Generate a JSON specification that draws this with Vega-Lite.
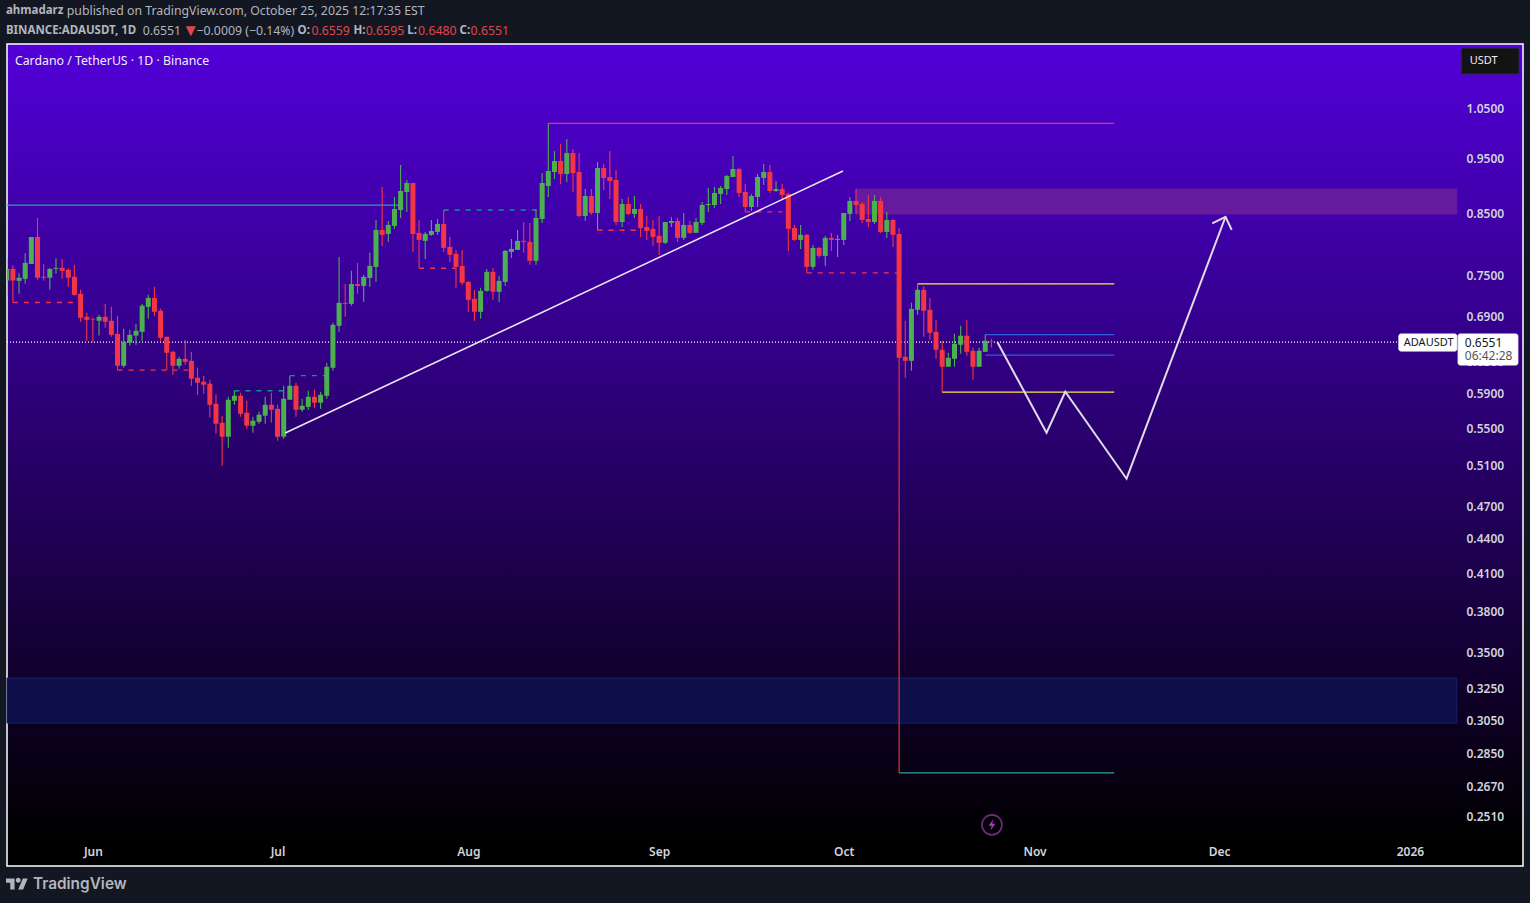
{
  "$schema": "https://vega.github.io/schema/vega-lite/v6.json",
  "autosize": {"type": "none"},
  "padding": {"left": 7, "top": 44, "right": 7, "bottom": 37},
  "width": 1516,
  "height": 822,
  "background": "#131722",
  "config": {
    "view": {
      "stroke": "#ffffff",
      "strokeWidth": 1.5,
      "fill": {
        "gradient": "linear",
        "x1": 0, "y1": 0, "x2": 0, "y2": 1,
        "stops": [
          {"offset": 0, "color": "#5200d9"},
          {"offset": 0.97, "color": "#000000"},
          {"offset": 1, "color": "#000000"}
        ]
      }
    },
    "text": {"font": "Noto Sans"},
    "axis": {"labelFont": "Noto Sans"}
  },
  "resolve": {"scale": {"color": "independent", "fill": "independent", "stroke": "independent", "strokeDash": "independent"}},
  "datasets": {
    "candles": [
      {"d":"2025-05-18","o":0.7418,"h":0.7760,"l":0.7183,"c":0.7595},
      {"d":"2025-05-19","o":0.7595,"h":0.7655,"l":0.7096,"c":0.7418},
      {"d":"2025-05-20","o":0.7414,"h":0.7530,"l":0.7222,"c":0.7460},
      {"d":"2025-05-21","o":0.7444,"h":0.7839,"l":0.7370,"c":0.7688},
      {"d":"2025-05-22","o":0.7672,"h":0.8100,"l":0.7672,"c":0.8100},
      {"d":"2025-05-23","o":0.8100,"h":0.8418,"l":0.7428,"c":0.7460},
      {"d":"2025-05-24","o":0.7475,"h":0.7672,"l":0.7414,"c":0.7460},
      {"d":"2025-05-25","o":0.7460,"h":0.7610,"l":0.7280,"c":0.7595},
      {"d":"2025-05-26","o":0.7595,"h":0.7760,"l":0.7520,"c":0.7610},
      {"d":"2025-05-27","o":0.7610,"h":0.7745,"l":0.7444,"c":0.7565},
      {"d":"2025-05-28","o":0.7580,"h":0.7605,"l":0.7324,"c":0.7460},
      {"d":"2025-05-29","o":0.7475,"h":0.7655,"l":0.7193,"c":0.7207},
      {"d":"2025-05-30","o":0.7222,"h":0.7280,"l":0.6825,"c":0.6880},
      {"d":"2025-05-31","o":0.6894,"h":0.6950,"l":0.6568,"c":0.6852},
      {"d":"2025-06-01","o":0.6866,"h":0.6880,"l":0.6547,"c":0.6857},
      {"d":"2025-06-02","o":0.6839,"h":0.6922,"l":0.6637,"c":0.6894},
      {"d":"2025-06-03","o":0.6894,"h":0.7078,"l":0.6742,"c":0.6825},
      {"d":"2025-06-04","o":0.6839,"h":0.7034,"l":0.6621,"c":0.6647},
      {"d":"2025-06-05","o":0.6660,"h":0.6908,"l":0.6190,"c":0.6244},
      {"d":"2025-06-06","o":0.6244,"h":0.6728,"l":0.6220,"c":0.6555},
      {"d":"2025-06-07","o":0.6542,"h":0.6715,"l":0.6502,"c":0.6647},
      {"d":"2025-06-08","o":0.6637,"h":0.6797,"l":0.6515,"c":0.6702},
      {"d":"2025-06-09","o":0.6688,"h":0.7078,"l":0.6568,"c":0.7050},
      {"d":"2025-06-10","o":0.7034,"h":0.7207,"l":0.6866,"c":0.7163},
      {"d":"2025-06-11","o":0.7163,"h":0.7324,"l":0.6908,"c":0.6964},
      {"d":"2025-06-12","o":0.6978,"h":0.7006,"l":0.6568,"c":0.6608},
      {"d":"2025-06-13","o":0.6621,"h":0.6621,"l":0.6190,"c":0.6410},
      {"d":"2025-06-14","o":0.6423,"h":0.6436,"l":0.6132,"c":0.6244},
      {"d":"2025-06-15","o":0.6244,"h":0.6358,"l":0.6206,"c":0.6333},
      {"d":"2025-06-16","o":0.6333,"h":0.6581,"l":0.6257,"c":0.6295},
      {"d":"2025-06-17","o":0.6307,"h":0.6423,"l":0.5997,"c":0.6082},
      {"d":"2025-06-18","o":0.6095,"h":0.6220,"l":0.5889,"c":0.6034},
      {"d":"2025-06-19","o":0.6046,"h":0.6120,"l":0.5901,"c":0.6010},
      {"d":"2025-06-20","o":0.6022,"h":0.6070,"l":0.5622,"c":0.5771},
      {"d":"2025-06-21","o":0.5783,"h":0.5889,"l":0.5443,"c":0.5554},
      {"d":"2025-06-22","o":0.5565,"h":0.5645,"l":0.5102,"c":0.5410},
      {"d":"2025-06-23","o":0.5410,"h":0.5865,"l":0.5292,"c":0.5830},
      {"d":"2025-06-24","o":0.5818,"h":0.5937,"l":0.5771,"c":0.5877},
      {"d":"2025-06-25","o":0.5877,"h":0.5913,"l":0.5633,"c":0.5667},
      {"d":"2025-06-26","o":0.5679,"h":0.5818,"l":0.5498,"c":0.5532},
      {"d":"2025-06-27","o":0.5532,"h":0.5633,"l":0.5454,"c":0.5588},
      {"d":"2025-06-28","o":0.5576,"h":0.5690,"l":0.5554,"c":0.5656},
      {"d":"2025-06-29","o":0.5645,"h":0.5865,"l":0.5554,"c":0.5771},
      {"d":"2025-06-30","o":0.5771,"h":0.5913,"l":0.5565,"c":0.5713},
      {"d":"2025-07-01","o":0.5724,"h":0.5771,"l":0.5367,"c":0.5410},
      {"d":"2025-07-02","o":0.5410,"h":0.5997,"l":0.5389,"c":0.5842},
      {"d":"2025-07-03","o":0.5830,"h":0.6120,"l":0.5830,"c":0.5997},
      {"d":"2025-07-04","o":0.5997,"h":0.6034,"l":0.5633,"c":0.5713},
      {"d":"2025-07-05","o":0.5713,"h":0.5842,"l":0.5690,"c":0.5759},
      {"d":"2025-07-06","o":0.5747,"h":0.5937,"l":0.5713,"c":0.5865},
      {"d":"2025-07-07","o":0.5865,"h":0.5949,"l":0.5736,"c":0.5795},
      {"d":"2025-07-08","o":0.5795,"h":0.5925,"l":0.5724,"c":0.5889},
      {"d":"2025-07-09","o":0.5877,"h":0.6282,"l":0.5842,"c":0.6232},
      {"d":"2025-07-10","o":0.6219,"h":0.6811,"l":0.6181,"c":0.6783},
      {"d":"2025-07-11","o":0.6770,"h":0.7780,"l":0.6688,"c":0.7091},
      {"d":"2025-07-12","o":0.7091,"h":0.7367,"l":0.6894,"c":0.7077},
      {"d":"2025-07-13","o":0.7077,"h":0.7565,"l":0.7049,"c":0.7367},
      {"d":"2025-07-14","o":0.7367,"h":0.7688,"l":0.7222,"c":0.7338},
      {"d":"2025-07-15","o":0.7338,"h":0.7504,"l":0.7105,"c":0.7474},
      {"d":"2025-07-16","o":0.7458,"h":0.7846,"l":0.7324,"c":0.7641},
      {"d":"2025-07-17","o":0.7626,"h":0.8384,"l":0.7398,"c":0.8217},
      {"d":"2025-07-18","o":0.8217,"h":0.8963,"l":0.7956,"c":0.8135},
      {"d":"2025-07-19","o":0.8151,"h":0.8367,"l":0.8021,"c":0.8300},
      {"d":"2025-07-20","o":0.8284,"h":0.8783,"l":0.8234,"c":0.8572},
      {"d":"2025-07-21","o":0.8555,"h":0.9369,"l":0.8418,"c":0.8890},
      {"d":"2025-07-22","o":0.8872,"h":0.9090,"l":0.8521,"c":0.9035},
      {"d":"2025-07-23","o":0.9035,"h":0.9035,"l":0.7860,"c":0.8151},
      {"d":"2025-07-24","o":0.8168,"h":0.8384,"l":0.7605,"c":0.8053},
      {"d":"2025-07-25","o":0.8037,"h":0.8184,"l":0.7750,"c":0.8151},
      {"d":"2025-07-26","o":0.8135,"h":0.8384,"l":0.8119,"c":0.8200},
      {"d":"2025-07-27","o":0.8184,"h":0.8401,"l":0.8135,"c":0.8317},
      {"d":"2025-07-28","o":0.8317,"h":0.8555,"l":0.7860,"c":0.7924},
      {"d":"2025-07-29","o":0.7940,"h":0.8102,"l":0.7703,"c":0.7813},
      {"d":"2025-07-30","o":0.7829,"h":0.7892,"l":0.7309,"c":0.7626},
      {"d":"2025-07-31","o":0.7641,"h":0.7892,"l":0.7353,"c":0.7384},
      {"d":"2025-08-01","o":0.7398,"h":0.7413,"l":0.6964,"c":0.7134},
      {"d":"2025-08-02","o":0.7148,"h":0.7280,"l":0.6838,"c":0.6964},
      {"d":"2025-08-03","o":0.6964,"h":0.7309,"l":0.6866,"c":0.7265},
      {"d":"2025-08-04","o":0.7265,"h":0.7595,"l":0.7251,"c":0.7550},
      {"d":"2025-08-05","o":0.7550,"h":0.7610,"l":0.7134,"c":0.7251},
      {"d":"2025-08-06","o":0.7251,"h":0.7489,"l":0.7105,"c":0.7413},
      {"d":"2025-08-07","o":0.7398,"h":0.7892,"l":0.7338,"c":0.7876},
      {"d":"2025-08-08","o":0.7860,"h":0.8069,"l":0.7765,"c":0.7908},
      {"d":"2025-08-09","o":0.7892,"h":0.8217,"l":0.7892,"c":0.8037},
      {"d":"2025-08-10","o":0.8037,"h":0.8350,"l":0.7846,"c":0.8021},
      {"d":"2025-08-11","o":0.8021,"h":0.8334,"l":0.7657,"c":0.7719},
      {"d":"2025-08-12","o":0.7719,"h":0.8572,"l":0.7657,"c":0.8418},
      {"d":"2025-08-13","o":0.8401,"h":0.9219,"l":0.8334,"c":0.9035},
      {"d":"2025-08-14","o":0.8981,"h":1.0192,"l":0.8783,"c":0.9256},
      {"d":"2025-08-15","o":0.9238,"h":0.9637,"l":0.9108,"c":0.9445},
      {"d":"2025-08-16","o":0.9445,"h":0.9775,"l":0.9017,"c":0.9201},
      {"d":"2025-08-17","o":0.9201,"h":0.9874,"l":0.9054,"c":0.9600},
      {"d":"2025-08-18","o":0.9600,"h":0.9676,"l":0.8872,"c":0.9219},
      {"d":"2025-08-19","o":0.9238,"h":0.9600,"l":0.8434,"c":0.8451},
      {"d":"2025-08-20","o":0.8451,"h":0.8926,"l":0.8367,"c":0.8801},
      {"d":"2025-08-21","o":0.8801,"h":0.8926,"l":0.8470,"c":0.8504},
      {"d":"2025-08-22","o":0.8504,"h":0.9426,"l":0.8212,"c":0.9312},
      {"d":"2025-08-23","o":0.9312,"h":0.9388,"l":0.8908,"c":0.9127},
      {"d":"2025-08-24","o":0.9145,"h":0.9637,"l":0.8748,"c":0.9072},
      {"d":"2025-08-25","o":0.9090,"h":0.9275,"l":0.8300,"c":0.8350},
      {"d":"2025-08-26","o":0.8350,"h":0.8748,"l":0.8267,"c":0.8660},
      {"d":"2025-08-27","o":0.8660,"h":0.8783,"l":0.8470,"c":0.8487},
      {"d":"2025-08-28","o":0.8487,"h":0.8801,"l":0.8418,"c":0.8572},
      {"d":"2025-08-29","o":0.8572,"h":0.8660,"l":0.8102,"c":0.8250},
      {"d":"2025-08-30","o":0.8267,"h":0.8451,"l":0.8053,"c":0.8200},
      {"d":"2025-08-31","o":0.8234,"h":0.8384,"l":0.7956,"c":0.8102},
      {"d":"2025-09-01","o":0.8119,"h":0.8451,"l":0.7813,"c":0.8005},
      {"d":"2025-09-02","o":0.8005,"h":0.8350,"l":0.7988,"c":0.8350},
      {"d":"2025-09-03","o":0.8334,"h":0.8434,"l":0.8267,"c":0.8367},
      {"d":"2025-09-04","o":0.8367,"h":0.8418,"l":0.8021,"c":0.8086},
      {"d":"2025-09-05","o":0.8086,"h":0.8504,"l":0.8053,"c":0.8300},
      {"d":"2025-09-06","o":0.8300,"h":0.8367,"l":0.8151,"c":0.8168},
      {"d":"2025-09-07","o":0.8168,"h":0.8418,"l":0.8168,"c":0.8350},
      {"d":"2025-09-08","o":0.8334,"h":0.8695,"l":0.8300,"c":0.8642},
      {"d":"2025-09-09","o":0.8642,"h":0.8944,"l":0.8521,"c":0.8660},
      {"d":"2025-09-10","o":0.8642,"h":0.8963,"l":0.8590,"c":0.8854},
      {"d":"2025-09-11","o":0.8837,"h":0.8981,"l":0.8660,"c":0.8944},
      {"d":"2025-09-12","o":0.8926,"h":0.9183,"l":0.8819,"c":0.9164},
      {"d":"2025-09-13","o":0.9145,"h":0.9539,"l":0.9145,"c":0.9294},
      {"d":"2025-09-14","o":0.9294,"h":0.9312,"l":0.8783,"c":0.8854},
      {"d":"2025-09-15","o":0.8872,"h":0.9017,"l":0.8521,"c":0.8607},
      {"d":"2025-09-16","o":0.8607,"h":0.8837,"l":0.8538,"c":0.8801},
      {"d":"2025-09-17","o":0.8783,"h":0.9201,"l":0.8607,"c":0.9145},
      {"d":"2025-09-18","o":0.9127,"h":0.9388,"l":0.8999,"c":0.9238},
      {"d":"2025-09-19","o":0.9238,"h":0.9369,"l":0.8854,"c":0.8890},
      {"d":"2025-09-20","o":0.8890,"h":0.9072,"l":0.8872,"c":0.8926},
      {"d":"2025-09-21","o":0.8926,"h":0.9017,"l":0.8748,"c":0.8819},
      {"d":"2025-09-22","o":0.8837,"h":0.8854,"l":0.7876,"c":0.8234},
      {"d":"2025-09-23","o":0.8250,"h":0.8300,"l":0.8037,"c":0.8053},
      {"d":"2025-09-24","o":0.8053,"h":0.8300,"l":0.7908,"c":0.8135},
      {"d":"2025-09-25","o":0.8135,"h":0.8151,"l":0.7535,"c":0.7626},
      {"d":"2025-09-26","o":0.7626,"h":0.7972,"l":0.7580,"c":0.7924},
      {"d":"2025-09-27","o":0.7924,"h":0.7940,"l":0.7765,"c":0.7797},
      {"d":"2025-09-28","o":0.7797,"h":0.8119,"l":0.7641,"c":0.8086},
      {"d":"2025-09-29","o":0.8086,"h":0.8168,"l":0.7876,"c":0.8053},
      {"d":"2025-09-30","o":0.8053,"h":0.8135,"l":0.7781,"c":0.8069},
      {"d":"2025-10-01","o":0.8053,"h":0.8504,"l":0.7972,"c":0.8504},
      {"d":"2025-10-02","o":0.8487,"h":0.8783,"l":0.8367,"c":0.8713},
      {"d":"2025-10-03","o":0.8713,"h":0.8926,"l":0.8487,"c":0.8642},
      {"d":"2025-10-04","o":0.8660,"h":0.8695,"l":0.8334,"c":0.8384},
      {"d":"2025-10-05","o":0.8401,"h":0.8819,"l":0.8267,"c":0.8350},
      {"d":"2025-10-06","o":0.8350,"h":0.8819,"l":0.8317,"c":0.8713},
      {"d":"2025-10-07","o":0.8713,"h":0.8783,"l":0.8168,"c":0.8184},
      {"d":"2025-10-08","o":0.8184,"h":0.8521,"l":0.8086,"c":0.8384},
      {"d":"2025-10-09","o":0.8384,"h":0.8401,"l":0.7940,"c":0.8135},
      {"d":"2025-10-10","o":0.8151,"h":0.8250,"l":0.2742,"c":0.6346},
      {"d":"2025-10-11","o":0.6359,"h":0.6838,"l":0.6094,"c":0.6307},
      {"d":"2025-10-12","o":0.6307,"h":0.7091,"l":0.6181,"c":0.7006},
      {"d":"2025-10-13","o":0.6992,"h":0.7367,"l":0.6921,"c":0.7280},
      {"d":"2025-10-14","o":0.7280,"h":0.7338,"l":0.6622,"c":0.6978},
      {"d":"2025-10-15","o":0.6992,"h":0.7162,"l":0.6581,"c":0.6675},
      {"d":"2025-10-16","o":0.6688,"h":0.6852,"l":0.6333,"c":0.6449},
      {"d":"2025-10-17","o":0.6449,"h":0.6568,"l":0.5921,"c":0.6232},
      {"d":"2025-10-18","o":0.6232,"h":0.6410,"l":0.6232,"c":0.6346},
      {"d":"2025-10-19","o":0.6333,"h":0.6662,"l":0.6232,"c":0.6528},
      {"d":"2025-10-20","o":0.6515,"h":0.6770,"l":0.6398,"c":0.6635},
      {"d":"2025-10-21","o":0.6635,"h":0.6852,"l":0.6372,"c":0.6423},
      {"d":"2025-10-22","o":0.6436,"h":0.6475,"l":0.6070,"c":0.6232},
      {"d":"2025-10-23","o":0.6232,"h":0.6475,"l":0.6232,"c":0.6436},
      {"d":"2025-10-24","o":0.6423,"h":0.6649,"l":0.6423,"c":0.6568},
      {"d":"2025-10-25","o":0.6559,"h":0.6595,"l":0.6480,"c":0.6551}
    ],
    "levels": [
      {"from":"2025-05-18T01:00:00Z","to":"2025-07-21T00:00:00Z","price":0.8640,"kind":"teal"},
      {"from":"2025-05-19T00:00:00Z","to":"2025-05-29T00:00:00Z","price":0.7096,"kind":"pivotRed"},
      {"from":"2025-06-05T00:00:00Z","to":"2025-06-17T00:00:00Z","price":0.6190,"kind":"pivotRed"},
      {"from":"2025-06-24T00:00:00Z","to":"2025-07-02T00:00:00Z","price":0.5937,"kind":"pivotGreen"},
      {"from":"2025-07-03T00:00:00Z","to":"2025-07-09T00:00:00Z","price":0.6120,"kind":"pivotGreen"},
      {"from":"2025-07-24T00:00:00Z","to":"2025-07-30T00:00:00Z","price":0.7605,"kind":"pivotRed"},
      {"from":"2025-07-28T00:00:00Z","to":"2025-08-12T00:00:00Z","price":0.8555,"kind":"pivotGreen"},
      {"from":"2025-08-22T00:00:00Z","to":"2025-08-29T00:00:00Z","price":0.8212,"kind":"pivotRed"},
      {"from":"2025-09-15T00:00:00Z","to":"2025-09-21T00:00:00Z","price":0.8521,"kind":"pivotRed"},
      {"from":"2025-09-25T00:00:00Z","to":"2025-10-10T00:00:00Z","price":0.7535,"kind":"pivotRed"},
      {"from":"2025-08-14T00:00:00Z","to":"2025-11-13T23:00:00Z","price":1.0192,"kind":"high"},
      {"from":"2025-10-13T00:00:00Z","to":"2025-11-13T23:00:00Z","price":0.7367,"kind":"yellow"},
      {"from":"2025-10-17T00:00:00Z","to":"2025-11-13T23:00:00Z","price":0.5921,"kind":"yellow"},
      {"from":"2025-10-24T00:00:00Z","to":"2025-11-13T23:00:00Z","price":0.6649,"kind":"blue"},
      {"from":"2025-10-24T00:00:00Z","to":"2025-11-13T23:00:00Z","price":0.6380,"kind":"blue"},
      {"from":"2025-10-10T00:00:00Z","to":"2025-11-13T23:00:00Z","price":0.2742,"kind":"teal"},
      {"from":"2025-05-18T01:00:00Z","to":"2025-12-30T05:00:00Z","price":0.6551,"kind":"last"}
    ],
    "boxes": [
      {"from":"2025-10-03T00:00:00Z","to":"2026-01-08T15:00:00Z","top":0.8925,"bottom":0.8485,"kind":"supply"},
      {"from":"2025-05-18T01:00:00Z","to":"2026-01-08T15:00:00Z","top":0.3322,"bottom":0.3033,"kind":"demand"},
      {"from":"2025-12-30T05:00:00Z","to":"2026-01-08T15:00:00Z","top":0.6658,"bottom":0.6433,"kind":"tag"},
      {"from":"2026-01-08T20:00:00Z","to":"2026-01-18T13:00:00Z","top":0.6658,"bottom":0.6254,"kind":"tag"},
      {"from":"2026-01-09T08:00:00Z","to":"2026-01-18T18:00:00Z","top":1.1868,"bottom":1.1260,"kind":"button"}
    ],
    "paths": [
      {"seg":"trend","i":0,"t":"2025-07-02T06:00:00Z","price":0.5451},
      {"seg":"trend","i":1,"t":"2025-09-30T21:00:00Z","price":0.9256},
      {"seg":"forecast","i":0,"t":"2025-10-25T23:00:00Z","price":0.6551},
      {"seg":"forecast","i":1,"t":"2025-11-02T23:00:00Z","price":0.5454},
      {"seg":"forecast","i":2,"t":"2025-11-06T00:00:00Z","price":0.5925},
      {"seg":"forecast","i":3,"t":"2025-11-15T23:00:00Z","price":0.4970},
      {"seg":"forecast","i":4,"t":"2025-12-02T01:00:00Z","price":0.8439},
      {"seg":"head","i":0,"t":"2025-11-29T21:00:00Z","price":0.8328},
      {"seg":"head","i":1,"t":"2025-12-02T01:00:00Z","price":0.8439},
      {"seg":"head","i":2,"t":"2025-12-03T01:00:00Z","price":0.8217}
    ],
    "labels": [
      {"t":"2025-05-17T21:00:00Z","p":1.2790,"label":"ahmadarz","role":"muted","w":"bold"},
      {"t":"2025-05-27T18:00:00Z","p":1.2790,"label":"published on TradingView.com, October 25, 2025 12:17:35 EST","role":"muted","w":"plain"},
      {"t":"2025-05-17T21:00:00Z","p":1.2285,"label":"BINANCE:ADAUSDT, 1D","role":"muted","w":"bold"},
      {"t":"2025-06-09T02:00:00Z","p":1.2285,"label":"0.6551","role":"muted","w":"plain"},
      {"t":"2025-06-15T12:00:00Z","p":1.2285,"label":"▼","role":"down","w":"plain"},
      {"t":"2025-06-17T20:00:00Z","p":1.2285,"label":"−0.0009 (−0.14%)","role":"muted","w":"plain"},
      {"t":"2025-07-04T06:00:00Z","p":1.2285,"label":"O:","role":"muted","w":"bold"},
      {"t":"2025-07-06T12:00:00Z","p":1.2285,"label":"0.6559","role":"down","w":"plain"},
      {"t":"2025-07-13T08:00:00Z","p":1.2285,"label":"H:","role":"muted","w":"bold"},
      {"t":"2025-07-15T08:00:00Z","p":1.2285,"label":"0.6595","role":"down","w":"plain"},
      {"t":"2025-07-22T02:00:00Z","p":1.2285,"label":"L:","role":"muted","w":"bold"},
      {"t":"2025-07-23T20:00:00Z","p":1.2285,"label":"0.6480","role":"down","w":"plain"},
      {"t":"2025-07-30T14:00:00Z","p":1.2285,"label":"C:","role":"muted","w":"bold"},
      {"t":"2025-08-01T09:00:00Z","p":1.2285,"label":"0.6551","role":"down","w":"plain"},
      {"t":"2025-05-19T08:00:00Z","p":1.1560,"label":"Cardano / TetherUS · 1D · Binance","role":"light","w":"plain"},
      {"t":"2026-01-10T17:00:00Z","p":1.1560,"label":"USDT","role":"light","w":"plain"},
      {"t":"2025-12-31T00:00:00Z","p":0.6541,"label":"ADAUSDT","role":"dark","w":"plain"},
      {"t":"2026-01-09T22:00:00Z","p":0.6541,"label":"0.6551","role":"dark","w":"plain"},
      {"t":"2026-01-09T22:00:00Z","p":0.6369,"label":"06:42:28","role":"grey","w":"plain"}
    ],
    "marker": [
      {"t":"2025-10-25T02:00:00Z","p":0.2469}
    ],
    "brand": [
      {"t":"2025-05-19T16:00:00Z","p":0.2191,"name":"logo"},
      {"t":"2025-05-22T06:00:00Z","p":0.2191,"name":"TradingView"}
    ]
  },
  "data": {"name": "candles"},
  "encoding": {
    "x": {
      "field": "d",
      "type": "temporal",
      "title": null,
      "scale": {"type": "utc", "padding": 0, "domain": ["2025-05-18T01:00:00Z", "2026-01-19T09:00:00Z"]},
      "axis": {
        "orient": "bottom",
        "offset": -20,
        "values": ["2025-06-01T00:00:00Z", "2025-07-01T00:00:00Z", "2025-08-01T00:00:00Z", "2025-09-01T00:00:00Z", "2025-10-01T00:00:00Z", "2025-11-01T00:00:00Z", "2025-12-01T00:00:00Z", "2026-01-01T00:00:00Z"],
        "labelExpr": "utcFormat(datum.value, utcmonth(datum.value) == 0 ? '%Y' : '%b')",
        "domain": false,
        "ticks": false,
        "grid": false,
        "labelPadding": 0,
        "labelFontSize": 12,
        "labelFontWeight": 600,
        "labelColor": "#d1d4dc",
        "labelFlush": false,
        "labelOverlap": false
      }
    },
    "y": {
      "type": "quantitative",
      "title": null,
      "scale": {"type": "log", "domain": [0.2272, 1.1965], "nice": false, "zero": false},
      "axis": {
        "orient": "right",
        "offset": -57,
        "values": [1.05, 0.95, 0.85, 0.75, 0.69, 0.63, 0.59, 0.55, 0.51, 0.47, 0.44, 0.41, 0.38, 0.35, 0.325, 0.305, 0.285, 0.267, 0.251],
        "format": ".4f",
        "domain": false,
        "ticks": false,
        "grid": false,
        "labelPadding": 0,
        "labelFontSize": 12,
        "labelFontWeight": 600,
        "labelColor": "#d1d4dc",
        "labelFlush": false,
        "labelOverlap": false
      }
    }
  },
  "layer": [
    {
      "data": {"name": "boxes"},
      "transform": [{"filter": "datum.kind == 'supply' || datum.kind == 'demand'"}],
      "mark": {"type": "rect", "strokeWidth": 1},
      "encoding": {
        "x": {"field": "from", "type": "temporal"},
        "x2": {"field": "to"},
        "y": {"field": "top", "type": "quantitative"},
        "y2": {"field": "bottom"},
        "fill": {"field": "kind", "type": "nominal", "legend": null, "scale": {"domain": ["supply", "demand"], "range": ["#661b9f", "#0e0e48"]}},
        "stroke": {"field": "kind", "type": "nominal", "legend": null, "scale": {"domain": ["supply", "demand"], "range": ["#661b9f", "#15206a"]}}
      }
    },
    {
      "data": {"name": "levels"},
      "mark": {"type": "rule", "strokeWidth": 1.3},
      "encoding": {
        "x": {"field": "from", "type": "temporal"},
        "x2": {"field": "to"},
        "y": {"field": "price", "type": "quantitative"},
        "color": {
          "field": "kind",
          "type": "nominal",
          "legend": null,
          "scale": {
            "domain": ["teal", "pivotRed", "pivotGreen", "high", "yellow", "blue", "last"],
            "range": ["#26a69a", "#f23645", "#089981", "#e8355a", "#ffeb3b", "#2f5fe0", "#ffffff"]
          }
        },
        "strokeDash": {
          "field": "kind",
          "type": "nominal",
          "legend": null,
          "scale": {
            "domain": ["teal", "pivotRed", "pivotGreen", "high", "yellow", "blue", "last"],
            "range": [[1, 0], [5, 6], [5, 6], [1, 0], [1, 0], [1, 0], [1, 2]]
          }
        }
      }
    },
    {
      "mark": {"type": "rule", "strokeWidth": 1.1, "clip": true},
      "encoding": {
        "y": {"field": "h", "type": "quantitative"},
        "y2": {"field": "l"},
        "color": {"condition": {"test": "datum.c >= datum.o", "value": "#4caf50"}, "value": "#f23645"}
      }
    },
    {
      "mark": {"type": "bar", "size": 5, "minBandSize": 1, "clip": true},
      "encoding": {
        "y": {"field": "o", "type": "quantitative"},
        "y2": {"field": "c"},
        "color": {"condition": {"test": "datum.c >= datum.o", "value": "#4caf50"}, "value": "#f23645"}
      }
    },
    {
      "data": {"name": "paths"},
      "transform": [{"filter": "datum.seg == 'trend'"}],
      "mark": {"type": "line", "color": "#ece8f2", "strokeWidth": 1.5},
      "encoding": {
        "x": {"field": "t", "type": "temporal"},
        "y": {"field": "price", "type": "quantitative"},
        "order": {"field": "i"}
      }
    },
    {
      "data": {"name": "paths"},
      "transform": [{"filter": "datum.seg != 'trend'"}],
      "mark": {"type": "line", "color": "#e0dcea", "strokeWidth": 2},
      "encoding": {
        "x": {"field": "t", "type": "temporal"},
        "y": {"field": "price", "type": "quantitative"},
        "detail": {"field": "seg"},
        "order": {"field": "i"}
      }
    },
    {
      "data": {"name": "boxes"},
      "transform": [{"filter": "datum.kind == 'tag' || datum.kind == 'button'"}],
      "mark": {"type": "rect", "cornerRadius": 2, "strokeWidth": 1},
      "encoding": {
        "x": {"field": "from", "type": "temporal"},
        "x2": {"field": "to"},
        "y": {"field": "top", "type": "quantitative"},
        "y2": {"field": "bottom"},
        "fill": {"field": "kind", "type": "nominal", "legend": null, "scale": {"domain": ["tag", "button"], "range": ["#ffffff", "#131313"]}},
        "stroke": {"field": "kind", "type": "nominal", "legend": null, "scale": {"domain": ["tag", "button"], "range": ["#ffffff", "#2f2a4a"]}}
      }
    },
    {
      "data": {"name": "labels"},
      "transform": [{"filter": "datum.w == 'plain'"}],
      "mark": {"type": "text", "align": "left", "baseline": "middle"},
      "encoding": {
        "x": {"field": "t", "type": "temporal"},
        "y": {"field": "p", "type": "quantitative"},
        "text": {"field": "label"},
        "size": {
          "condition": [
            {"test": "datum.label == '▼'", "value": 17},
            {"test": "datum.label == 'ADAUSDT' || datum.label == 'USDT'", "value": 11},
            {"test": "datum.role == 'dark' || datum.role == 'grey'", "value": 12}
          ],
          "value": 12.3
        },
        "color": {"field": "role", "type": "nominal", "legend": null, "scale": {"domain": ["muted", "down", "light", "dark", "grey"], "range": ["#b2b5be", "#e0474c", "#f0eefa", "#131722", "#555555"]}}
      }
    },
    {
      "data": {"name": "labels"},
      "transform": [{"filter": "datum.w == 'bold'"}],
      "mark": {"type": "text", "align": "left", "baseline": "middle", "fontSize": 11.5, "fontWeight": 700, "color": "#b2b5be"},
      "encoding": {
        "x": {"field": "t", "type": "temporal"},
        "y": {"field": "p", "type": "quantitative"},
        "text": {"field": "label"}
      }
    },
    {
      "data": {"name": "marker"},
      "mark": {"type": "point", "shape": "circle", "size": 400, "filled": false, "stroke": "#a63bb8", "strokeWidth": 1.6},
      "encoding": {
        "x": {"field": "t", "type": "temporal"},
        "y": {"field": "p", "type": "quantitative"}
      }
    },
    {
      "data": {"name": "marker"},
      "mark": {"type": "point", "shape": "M0.25 -1L-0.6 0.15H-0.05L-0.25 1L0.6 -0.2H0.05Z", "size": 130, "filled": true, "fill": "#a63bb8", "opacity": 1},
      "encoding": {
        "x": {"field": "t", "type": "temporal"},
        "y": {"field": "p", "type": "quantitative"}
      }
    },
    {
      "data": {"name": "brand"},
      "transform": [{"filter": "datum.name == 'logo'"}],
      "mark": {"type": "point", "shape": "M-0.222 0.5H-0.611V-0.111H-1V-0.5H-0.222ZM0.556 0.5H0.111L0.528 -0.5H0.972ZM0.333 -0.333A0.222 0.222 0 1 1 -0.111 -0.333A0.222 0.222 0 1 1 0.333 -0.333Z", "size": 484, "filled": true, "fill": "#b2b5be", "opacity": 1},
      "encoding": {
        "x": {"field": "t", "type": "temporal"},
        "y": {"field": "p", "type": "quantitative"}
      }
    },
    {
      "data": {"name": "brand"},
      "transform": [{"filter": "datum.name != 'logo'"}],
      "mark": {"type": "text", "align": "left", "baseline": "middle", "font": "Inter", "fontSize": 15.4, "fontWeight": 600, "color": "#b2b5be"},
      "encoding": {
        "x": {"field": "t", "type": "temporal"},
        "y": {"field": "p", "type": "quantitative"},
        "text": {"field": "name"}
      }
    }
  ]
}
